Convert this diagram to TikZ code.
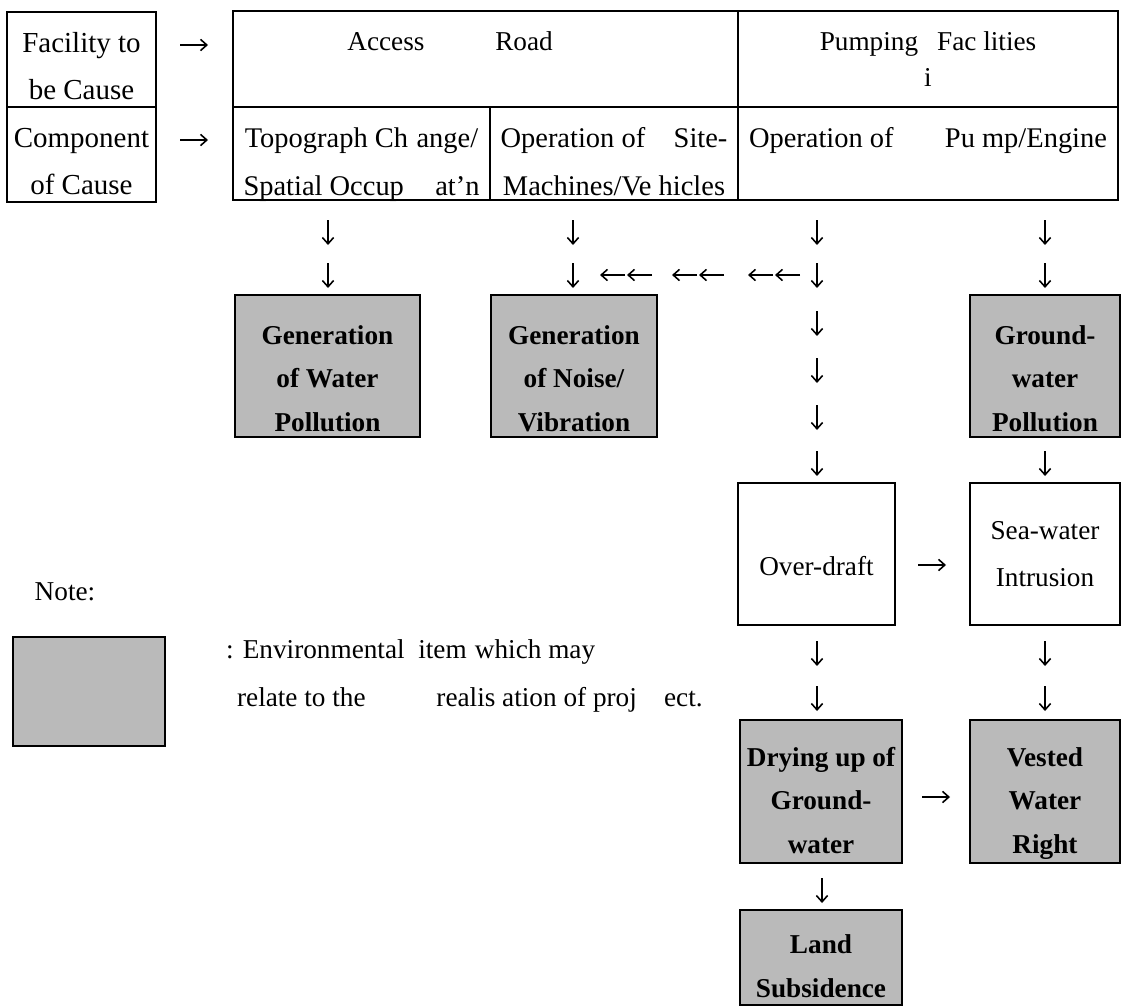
\documentclass[tikz,border=0pt]{standalone}
\usepackage{fontspec}
\setmainfont{Liberation Serif}
\usetikzlibrary{arrows.meta}

\begin{document}
\begin{tikzpicture}[
  x=0.02cm,y=-0.02cm,
  font=\fontsize{15.5}{27}\selectfont,
  >={Straight Barb[length=3.6pt,width=6.4pt]},
  cell/.style={draw,line width=1pt,inner sep=0pt,align=center},
  item/.style={cell,fill=black!27,font=\fontsize{15.5}{25}\selectfont\bfseries,text depth=0pt},
  head/.style={cell,font=\fontsize{15.5}{20}\selectfont},
  side/.style={cell,font=\fontsize{16.5}{27}\selectfont,minimum width=2.98cm,minimum height=1.9cm,text height=47pt,text depth=1pt},
  part/.style={cell,font=\fontsize{16.2}{27}\selectfont,minimum height=1.86cm,text height=47.5pt,text depth=0pt},
  tip/.style={->,line width=.9pt}
]
\useasboundingbox (0,0) rectangle (1124,1007);

% Legend column on the left.
\node[side] (facility) at (81.5,59.5) {Facility to\\be Cause};
\node[side] (component) at (81.5,154.5) {Component\\of Cause};

% Header table: facilities above, their components below.
\node[head,minimum width=10.1cm,minimum height=1.92cm] (road) at (485.5,59) {Access\hspace{2.6em}Road\hspace*{2.6em}\\\phantom{i}};
\node[head,minimum width=7.6cm,minimum height=1.92cm] (pumping) at (928,59) {Pumping\hspace{.7em}Fac lities\\i};
\node[part,minimum width=5.14cm] (topo) at (361.5,153.5) {Topograph Ch\hspace{.3em}ange/\\Spatial Occup\hspace{1.1em}at'n};
\node[part,minimum width=4.96cm] (site) at (614,153.5) {Operation of\hspace{1em}Site-\\Machines/Ve hicles};
\node[part,minimum width=7.6cm] (engine) at (928,153.5) {Operation of\hspace{1.8em}Pu mp/Engine\\\phantom{i}};

% Impact items.
\node[item,minimum width=3.7cm,minimum height=2.84cm,text height=75pt] (waterpol) at (327.5,366) {Generation\\of Water\\Pollution};
\node[item,minimum width=3.32cm,minimum height=2.84cm,text height=75pt] (noise) at (574,366) {Generation\\of Noise/\\Vibration};
\node[item,minimum width=3.0cm,minimum height=2.84cm,text height=75pt] (gwpol) at (1045,366) {Ground-\\water\\Pollution};
\node[cell,minimum width=3.14cm,minimum height=2.84cm,text height=25pt] (overdraft) at (816.5,554) {Over-draft};
\node[cell,minimum width=3.0cm,minimum height=2.84cm] (seawater) at (1045,554) {Sea-water\\Intrusion};
\node[item,minimum width=3.24cm,minimum height=2.86cm,text height=71pt] (drying) at (821,791.5) {Drying up of\\Ground-\\water};
\node[item,minimum width=3.0cm,minimum height=2.86cm,text height=71pt] (vested) at (1045,791.5) {Vested\\Water\\Right};
\node[item,minimum width=3.24cm,minimum height=1.9cm,text height=45pt] (land) at (821,957.5) {Land\\Subsidence};

% Short arrows, one glyph at a time as on the sheet.
\foreach \x/\y in {328/220,328/263,573/220,573/263,817/220,817/263,817/311,817/358,817/405,817/451,
                   1045/220,1045/263,1045/451,817/641,817/686,1045/641,1045/686,822/878}
  \draw[tip] (\x,\y) -- ++(0,25);
\foreach \x/\y in {180/45,180/140,918/565,922/797}
  \draw[tip] (\x,\y) -- ++(28,0);
\foreach \x in {652,724,800}{
  \draw[tip] (\x,275) -- ++(-25,0);
  \draw[tip] (\x-27,275) -- ++(-25,0);
}

% Note.
\node (notehead) at (65,592) {Note:};
\node[item,minimum width=3.04cm,minimum height=2.18cm] (notebox) at (89,691.5) {};
\node[anchor=west,align=left] (notetext) at (220,676) {: Environmental\hspace{.5em}item\hspace{.3em}which may\\\hspace{.4em}relate to the\hspace{2.6em}realis ation of proj\hspace{1em}ect.};
\end{tikzpicture}
\end{document}
